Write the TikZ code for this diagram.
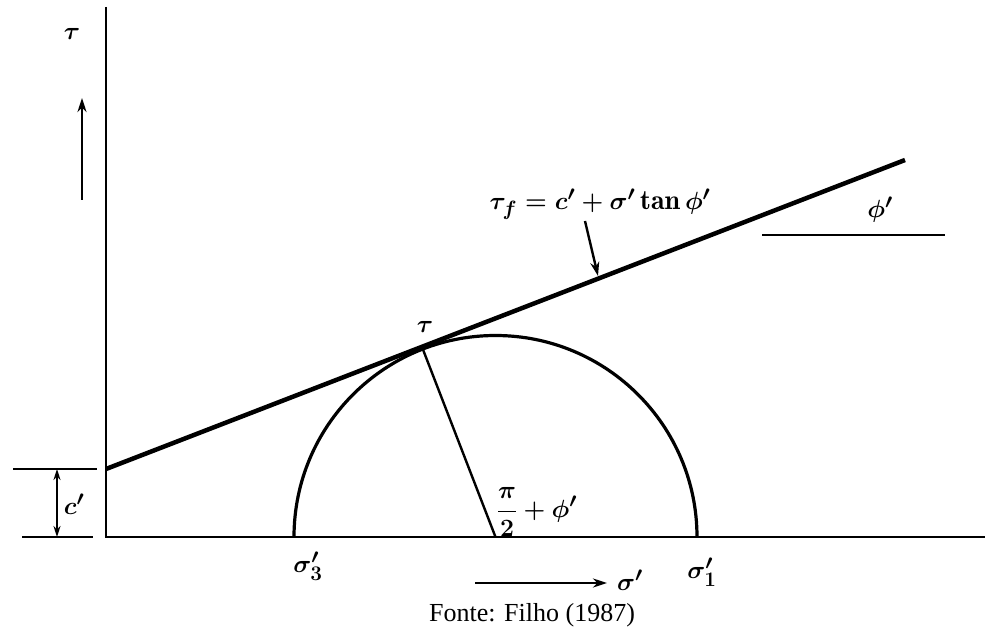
\documentclass[tikz,border=0pt]{standalone}
\usepackage{fontspec}
\newfontfamily\capfont{Liberation Serif}
\usetikzlibrary{calc,arrows.meta}
\begin{document}
\begin{tikzpicture}[x=1pt,y=1pt,
  axisline/.style={line width=2.5pt,black},
  envline/.style={line width=4.5pt,black},
  circline/.style={line width=3.2pt,black},
  thinline/.style={line width=2.4pt,black},
  arr/.style={-{Stealth[length=14pt,width=9pt]}},
  lbl/.style={inner sep=0pt,font=\fontsize{28}{30}\selectfont\boldmath},
  caption/.style={inner sep=0pt,font=\capfont\fontsize{26}{28}\selectfont}]
\useasboundingbox (0,0) rectangle (987,632);
% axes
\coordinate (O) at (106,95);
\coordinate (Ytop) at (106,625);
\coordinate (Xend) at (985,95);
\draw[axisline] (Ytop) -- (O) -- (Xend);
% axis direction arrows
\coordinate (tauA) at (82,432);
\coordinate (tauB) at (82,534);
\draw[thinline,arr] (tauA) -- (tauB);
\node[lbl] (taulbl) at (72,598) {$\tau$};
\coordinate (sigA) at (475,49);
\coordinate (sigB) at (607,49);
\draw[thinline,arr] (sigA) -- (sigB);
\node[lbl] (siglbl) at (630,52) {$\sigma'$};
% Mohr circle
\coordinate (C) at (495.5,95);
\coordinate (S3) at (294,95);
\coordinate (S1) at (697,95);
\draw[circline] (S3) arc[start angle=180,end angle=0,radius=201.5];
\node[lbl] (s3lbl) at (308,66) {$\sigma'_3$};
\node[lbl] (s1lbl) at (702,60) {$\sigma'_1$};
% failure envelope
\coordinate (EA) at (106,163);
\coordinate (EB) at (905,472);
\draw[envline] (EA) -- (EB);
\coordinate (T) at ($(EA)!(C)!(EB)$);
\draw[thinline] (T) -- (C);
\node[lbl] (tlbl) at (425,305) {$\tau$};
\node[lbl] (anglbl) at (537,120) {$\displaystyle\frac{\pi}{2}+\phi'$};
% envelope label
\node[lbl] (eqlbl) at (600,428) {$\tau_f = c' + \sigma'\tan\phi'$};
\coordinate (eqA) at (585,411);
\coordinate (eqB) at (598,356);
\draw[thinline,arr] (eqA) -- (eqB);
% angle phi'
\coordinate (PA) at (762,397);
\coordinate (PB) at (945,397);
\draw[thinline] (PA) -- (PB);
\node[lbl] (philbl) at (880,422) {$\phi'$};
% cohesion dimension
\coordinate (CtA) at (13,163);
\coordinate (CtB) at (97,163);
\coordinate (CbA) at (22,95);
\coordinate (CbB) at (93,95);
\draw[thinline] (CtA) -- (CtB);
\draw[thinline] (CbA) -- (CbB);
\coordinate (CdA) at (57,163);
\coordinate (CdB) at (57,95);
\draw[thinline,{Stealth[length=11pt,width=7pt]}-{Stealth[length=11pt,width=7pt]}] (CdA) -- (CdB);
\node[lbl] (clbl) at (74,128) {$c'$};
% caption
\node[caption] (cap) at (532,17) {Fonte: Filho (1987)};
\end{tikzpicture}
\end{document}
